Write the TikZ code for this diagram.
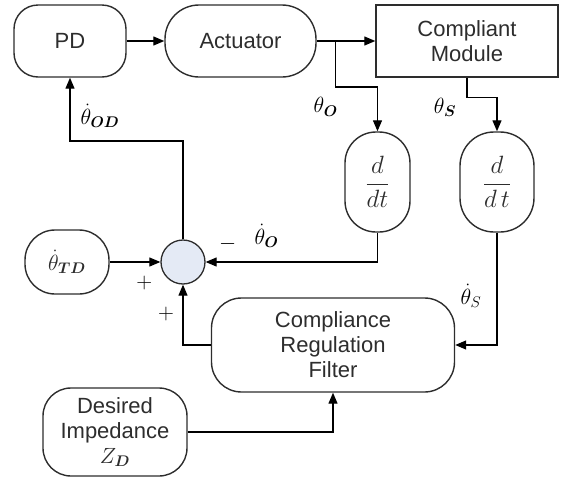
\RequirePackage{fix-cm}
\documentclass[tikz,border=0pt]{standalone}
\usepackage{fontspec}
\setmainfont{Liberation Sans}
\usepackage{amsmath}
\usetikzlibrary{positioning, arrows.meta}

\definecolor{sumfill}{RGB}{228,234,245}
\definecolor{ink}{RGB}{45,45,45}

\tikzset{
  blk/.style={draw=ink, line width=1.4pt, text=ink, align=center, inner sep=0pt},
  rblk/.style={blk, rounded corners=#1},
  sumc/.style={circle, draw=ink, line width=1.3pt, fill=sumfill, minimum size=44pt, inner sep=0pt},
  lbl/.style={inner sep=0pt, anchor=center},
}

\begin{document}
\begin{tikzpicture}[on grid, >={Triangle[length=11pt,width=9pt]}, line width=1.2pt,
    font=\fontsize{22}{25}\selectfont]
  \useasboundingbox (-70pt,41pt) rectangle (496pt,-439pt);
  % forward path
  \node[rblk=24pt, minimum width=112pt, minimum height=72pt] (pd) {PD};
  \node[rblk=34pt, minimum width=151pt, minimum height=72pt] (act) [right=170.5pt of pd] {Actuator};
  \node[blk, minimum width=182pt, minimum height=72pt] (cm) [right=226.5pt of act] {Compliant\\Module};
  \node[rblk=31pt, minimum width=65pt, minimum height=100pt, font=\fontsize{25}{28}\selectfont] (ddt1) [below right=141pt and 137pt of act] {$\dfrac{d}{dt}$};
  \node[rblk=34pt, minimum width=74pt, minimum height=100pt, font=\fontsize{25}{28}\selectfont] (ddt2) [right=119.5pt of ddt1] {$\dfrac{d}{d\,t}$};
  % summing point and inputs
  \node[sumc] (sum) [below right=221pt and 113pt of pd] {};
  \node[rblk=30pt, minimum width=84pt, minimum height=64pt] (td) [left=116pt of sum] {$\dot{\theta}_{\boldsymbol{TD}}$};
  \node[rblk=30pt, minimum width=243pt, minimum height=94pt] (crf) [below right=83pt and 150pt of sum] {Compliance\\Regulation\\Filter};
  \node[rblk=28pt, minimum width=144pt, minimum height=88pt] (dz) [below left=87pt and 218pt of crf] {Desired\\Impedance\\$Z_{\boldsymbol{D}}$};
  \coordinate[right=19pt of act.east] (br1);

  \draw[->] (pd) -- (act);
  \draw[->] (act) -- (cm);
  \draw[->] (br1) -- ++(0,-46pt) -| (ddt1.north);
  \draw[->] (cm.south) -- ++(0,-20pt) -| (ddt2.north);
  \draw[->] (ddt1.south) |- (sum.east);
  \draw[->] (ddt2.south) |- (crf.east);
  \draw[->] (td) -- (sum);
  \draw[->] (crf.west) -| (sum.south);
  \draw[->] (dz.east) -| (crf.south);
  \draw[->] (sum) -- ++(0,121pt) -| (pd.south);

  % signal labels
  \node (lod) [below right=38pt and 30pt of pd.south, lbl] {$\dot{\theta}_{\boldsymbol{OD}}$};
  \node (lo) [below left=66pt and 10pt of br1, lbl] {$\theta_{\boldsymbol{O}}$};
  \node (ls) [below left=30pt and 22pt of cm.south, lbl] {$\theta_{\boldsymbol{S}}$};
  \node (ldo) [above right=26pt and 61pt of sum.east, lbl] {$\dot{\theta}_{\boldsymbol{O}}$};
  \node (lds) [below left=63pt and 26pt of ddt2.south, lbl] {$\dot{\theta}_{S}$};
  \node (mn) [above right=18pt and 22pt of sum.east, lbl] {$-$};
  \node (pl1) [below left=21pt and 16pt of sum.west, lbl] {$+$};
  \node (pl2) [below left=29pt and 17pt of sum.south, lbl] {$+$};
\end{tikzpicture}
\end{document}
